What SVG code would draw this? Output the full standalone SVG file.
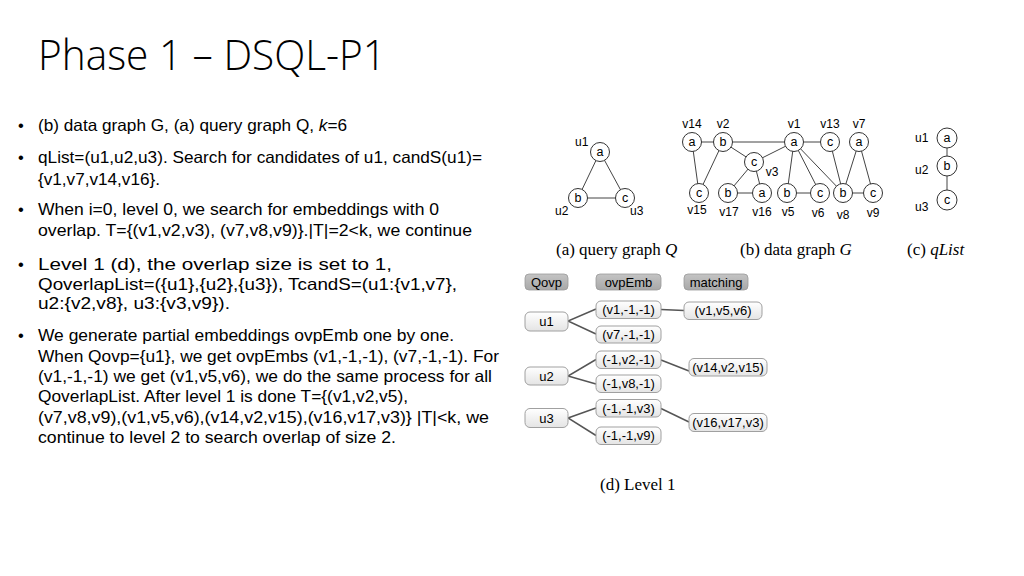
<svg xmlns="http://www.w3.org/2000/svg" width="1024" height="576" viewBox="0 0 1024 576">
<defs>
<linearGradient id="boxg" x1="0" y1="0" x2="0" y2="1">
<stop offset="0" stop-color="#ffffff"/>
<stop offset="1" stop-color="#e4e4e4"/>
</linearGradient>
<linearGradient id="hdrg" x1="0" y1="0" x2="0" y2="1">
<stop offset="0" stop-color="#c4c4c4"/>
<stop offset="1" stop-color="#a8a8a8"/>
</linearGradient>
</defs>
<style>
.title{font-family:"Open Sans","Liberation Sans",sans-serif;font-weight:300;font-size:42px;fill:#000}
.body{font-family:"Liberation Sans",sans-serif;font-size:16.5px;fill:#000}
.cap{font-family:"Liberation Serif",serif;font-size:17px;fill:#000}
.lbl{font-family:"Liberation Sans",sans-serif;font-size:12px;fill:#000}
.nl{font-family:"Liberation Sans",sans-serif;font-size:12.5px;fill:#000;text-anchor:middle;dominant-baseline:central}
.nd{fill:#fff;stroke:#333;stroke-width:1}
.ed{stroke:#444;stroke-width:1;fill:none}
.box{fill:url(#boxg);stroke:#a0a0a0;stroke-width:1}
.hdr{fill:url(#hdrg);stroke:#999;stroke-width:0.8}
.bt{font-family:"Liberation Sans",sans-serif;font-size:13px;fill:#000;text-anchor:middle;dominant-baseline:central}
.tl{stroke:#555;stroke-width:1.5;fill:none}
</style>
<rect width="1024" height="576" fill="#fff"/>

<text class="title" x="38" y="70" textLength="348" lengthAdjust="spacingAndGlyphs">Phase 1 – DSQL-P1</text>

<g id="bullets" class="body">
<text x="18" y="131">•</text>
<text x="38" y="131" textLength="309" lengthAdjust="spacingAndGlyphs">(b) data graph G, (a) query graph Q, <tspan font-style="italic">k</tspan>=6</text>
<text x="18" y="163">•</text>
<text x="38" y="163" textLength="444" lengthAdjust="spacingAndGlyphs">qList=(u1,u2,u3). Search for candidates of u1, candS(u1)=</text>
<text x="38" y="185" textLength="122" lengthAdjust="spacingAndGlyphs">{v1,v7,v14,v16}.</text>
<text x="18" y="215">•</text>
<text x="38" y="215" textLength="401" lengthAdjust="spacingAndGlyphs">When i=0, level 0, we search for embeddings with 0</text>
<text x="38" y="236" textLength="434" lengthAdjust="spacingAndGlyphs">overlap. T={(v1,v2,v3), (v7,v8,v9)}.|T|=2&lt;k, we continue</text>
<text x="18" y="270">•</text>
<text x="38" y="270" textLength="354" lengthAdjust="spacingAndGlyphs">Level 1 (d), the overlap size is set to 1,</text>
<text x="38" y="290" textLength="419" lengthAdjust="spacingAndGlyphs">QoverlapList=({u1},{u2},{u3}), TcandS=(u1:{v1,v7},</text>
<text x="38" y="309" textLength="192" lengthAdjust="spacingAndGlyphs">u2:{v2,v8}, u3:{v3,v9}).</text>
<text x="18" y="341">•</text>
<text x="38" y="341" textLength="416" lengthAdjust="spacingAndGlyphs">We generate partial embeddings ovpEmb one by one.</text>
<text x="38" y="362" textLength="461" lengthAdjust="spacingAndGlyphs">When Qovp={u1}, we get ovpEmbs (v1,-1,-1), (v7,-1,-1). For</text>
<text x="38" y="382" textLength="454" lengthAdjust="spacingAndGlyphs">(v1,-1,-1) we get (v1,v5,v6), we do the same process for all</text>
<text x="38" y="402" textLength="370" lengthAdjust="spacingAndGlyphs">QoverlapList. After level 1 is done T={(v1,v2,v5),</text>
<text x="38" y="423" textLength="451" lengthAdjust="spacingAndGlyphs">(v7,v8,v9),(v1,v5,v6),(v14,v2,v15),(v16,v17,v3)} |T|&lt;k, we</text>
<text x="38" y="443" textLength="358" lengthAdjust="spacingAndGlyphs">continue to level 2 to search overlap of size 2.</text>
</g>

<!-- Query graph Q -->
<g id="edges-q">
<line class="ed" x1="600" y1="152" x2="578" y2="198"/>
<line class="ed" x1="600" y1="152" x2="625" y2="198"/>
<line class="ed" x1="578" y1="198" x2="625" y2="198"/>
</g>
<g id="q-u1"><circle class="nd" cx="600" cy="152" r="9.5"/><text class="nl" x="600" y="152">a</text><text class="lbl" x="575" y="146">u1</text></g>
<g id="q-u2"><circle class="nd" cx="578" cy="198" r="9.5"/><text class="nl" x="578" y="198">b</text><text class="lbl" x="555" y="215">u2</text></g>
<g id="q-u3"><circle class="nd" cx="625" cy="198" r="9.5"/><text class="nl" x="625" y="198">c</text><text class="lbl" x="630" y="215">u3</text></g>
<text class="cap" x="556" y="255">(a) query graph <tspan font-style="italic">Q</tspan></text>

<!-- Data graph G -->
<g id="edges-g">
<line class="ed" x1="692" y1="142" x2="723" y2="142"/>
<line class="ed" x1="723" y1="142" x2="794" y2="142"/>
<line class="ed" x1="794" y1="142" x2="830" y2="142"/>
<line class="ed" x1="692" y1="142" x2="699" y2="193"/>
<line class="ed" x1="723" y1="142" x2="699" y2="193"/>
<line class="ed" x1="723" y1="142" x2="754" y2="162"/>
<line class="ed" x1="754" y1="162" x2="794" y2="142"/>
<line class="ed" x1="754" y1="162" x2="728" y2="193"/>
<line class="ed" x1="754" y1="162" x2="762" y2="193"/>
<line class="ed" x1="728" y1="193" x2="762" y2="193"/>
<line class="ed" x1="794" y1="142" x2="787" y2="193"/>
<line class="ed" x1="794" y1="142" x2="820" y2="193"/>
<line class="ed" x1="794" y1="142" x2="843" y2="193"/>
<line class="ed" x1="787" y1="193" x2="820" y2="193"/>
<line class="ed" x1="830" y1="142" x2="843" y2="193"/>
<line class="ed" x1="859" y1="142" x2="843" y2="193"/>
<line class="ed" x1="859" y1="142" x2="873" y2="193"/>
<line class="ed" x1="843" y1="193" x2="873" y2="193"/>
</g>
<g id="g-v14"><circle class="nd" cx="692" cy="142" r="9.5"/><text class="nl" x="692" y="142">a</text><text class="lbl" x="692" y="128" text-anchor="middle">v14</text></g>
<g id="g-v2"><circle class="nd" cx="723" cy="142" r="9.5"/><text class="nl" x="723" y="142">b</text><text class="lbl" x="723" y="128" text-anchor="middle">v2</text></g>
<g id="g-v1"><circle class="nd" cx="794" cy="142" r="9.5"/><text class="nl" x="794" y="142">a</text><text class="lbl" x="794" y="128" text-anchor="middle">v1</text></g>
<g id="g-v13"><circle class="nd" cx="830" cy="142" r="9.5"/><text class="nl" x="830" y="142">c</text><text class="lbl" x="830" y="128" text-anchor="middle">v13</text></g>
<g id="g-v7"><circle class="nd" cx="859" cy="142" r="9.5"/><text class="nl" x="859" y="142">a</text><text class="lbl" x="859" y="128" text-anchor="middle">v7</text></g>
<g id="g-v3"><circle class="nd" cx="754" cy="162" r="9.5"/><text class="nl" x="754" y="162">c</text><text class="lbl" x="772" y="176" text-anchor="middle">v3</text></g>
<g id="g-v15"><circle class="nd" cx="699" cy="193" r="9.5"/><text class="nl" x="699" y="193">c</text><text class="lbl" x="697" y="214" text-anchor="middle">v15</text></g>
<g id="g-v17"><circle class="nd" cx="728" cy="193" r="9.5"/><text class="nl" x="728" y="193">b</text><text class="lbl" x="729" y="216" text-anchor="middle">v17</text></g>
<g id="g-v16"><circle class="nd" cx="762" cy="193" r="9.5"/><text class="nl" x="762" y="193">a</text><text class="lbl" x="762" y="216" text-anchor="middle">v16</text></g>
<g id="g-v5"><circle class="nd" cx="787" cy="193" r="9.5"/><text class="nl" x="787" y="193">b</text><text class="lbl" x="788" y="216" text-anchor="middle">v5</text></g>
<g id="g-v6"><circle class="nd" cx="820" cy="193" r="9.5"/><text class="nl" x="820" y="193">c</text><text class="lbl" x="818" y="217" text-anchor="middle">v6</text></g>
<g id="g-v8"><circle class="nd" cx="843" cy="193" r="9.5"/><text class="nl" x="843" y="193">b</text><text class="lbl" x="843" y="219" text-anchor="middle">v8</text></g>
<g id="g-v9"><circle class="nd" cx="873" cy="193" r="9.5"/><text class="nl" x="873" y="193">c</text><text class="lbl" x="873" y="217" text-anchor="middle">v9</text></g>
<text class="cap" x="740" y="255">(b) data graph <tspan font-style="italic">G</tspan></text>

<!-- qList -->
<g id="edges-ql">
<line class="ed" x1="947" y1="138" x2="947" y2="166"/>
<line class="ed" x1="947" y1="166" x2="947" y2="200"/>
</g>
<g id="ql-u1"><circle class="nd" cx="947" cy="138" r="10"/><text class="nl" x="947" y="138">a</text><text class="lbl" x="915" y="142">u1</text></g>
<g id="ql-u2"><circle class="nd" cx="947" cy="166" r="10"/><text class="nl" x="947" y="166">b</text><text class="lbl" x="915" y="174">u2</text></g>
<g id="ql-u3"><circle class="nd" cx="947" cy="200" r="10"/><text class="nl" x="947" y="200">c</text><text class="lbl" x="915" y="211">u3</text></g>
<text class="cap" x="907" y="255">(c) <tspan font-style="italic">qList</tspan></text>

<!-- Level 1 -->
<g id="hdr-qovp"><rect class="hdr" x="525" y="274" width="43" height="16" rx="4"/><text class="bt" x="546.5" y="282">Qovp</text></g>
<g id="hdr-ovpemb"><rect class="hdr" x="596" y="274" width="65" height="16" rx="4"/><text class="bt" x="628.5" y="282">ovpEmb</text></g>
<g id="hdr-matching"><rect class="hdr" x="684" y="274" width="64" height="16" rx="4"/><text class="bt" x="716" y="282">matching</text></g>

<g id="edges-l1">
<polyline class="tl" points="596,309 568,321 596,334"/>
<line class="tl" x1="661" y1="309.5" x2="684" y2="310.5"/>
<polyline class="tl" points="596,359.5 568,376 596,384"/>
<line class="tl" x1="661" y1="360" x2="689" y2="371"/>
<polyline class="tl" points="596,408 568,418 596,435.5"/>
<line class="tl" x1="661" y1="408.5" x2="689" y2="422"/>
</g>

<g id="n-u1"><rect class="box" x="525" y="312" width="43" height="19" rx="5"/><text class="bt" x="546.5" y="321.5">u1</text></g>
<g id="n-u2"><rect class="box" x="525" y="367" width="43" height="18" rx="5"/><text class="bt" x="546.5" y="376">u2</text></g>
<g id="n-u3"><rect class="box" x="525" y="408.5" width="43" height="19" rx="5"/><text class="bt" x="546.5" y="418">u3</text></g>

<g id="n-e1"><rect class="box" x="596" y="301" width="65" height="17.5" rx="5"/><text class="bt" x="628.5" y="309.5">(v1,-1,-1)</text></g>
<g id="n-e2"><rect class="box" x="596" y="326" width="65" height="17" rx="5"/><text class="bt" x="628.5" y="334.5">(v7,-1,-1)</text></g>
<g id="n-e3"><rect class="box" x="596" y="351" width="65" height="17.5" rx="5"/><text class="bt" x="628.5" y="359.5">(-1,v2,-1)</text></g>
<g id="n-e4"><rect class="box" x="596" y="375" width="65" height="17.5" rx="5"/><text class="bt" x="628.5" y="383.5">(-1,v8,-1)</text></g>
<g id="n-e5"><rect class="box" x="596" y="399.5" width="65" height="17.5" rx="5"/><text class="bt" x="628.5" y="408">(-1,-1,v3)</text></g>
<g id="n-e6"><rect class="box" x="596" y="427" width="65" height="17.5" rx="5"/><text class="bt" x="628.5" y="435.5">(-1,-1,v9)</text></g>

<g id="n-m1"><rect class="box" x="684" y="302" width="78" height="17.5" rx="5"/><text class="bt" x="723" y="310.5">(v1,v5,v6)</text></g>
<g id="n-m2"><rect class="box" x="689" y="358.5" width="78" height="17.5" rx="5"/><text class="bt" x="728" y="367">(v14,v2,v15)</text></g>
<g id="n-m3"><rect class="box" x="689" y="413.5" width="78" height="18" rx="5"/><text class="bt" x="728" y="422.5">(v16,v17,v3)</text></g>

<text class="cap" x="600" y="490">(d) Level 1</text>
</svg>
